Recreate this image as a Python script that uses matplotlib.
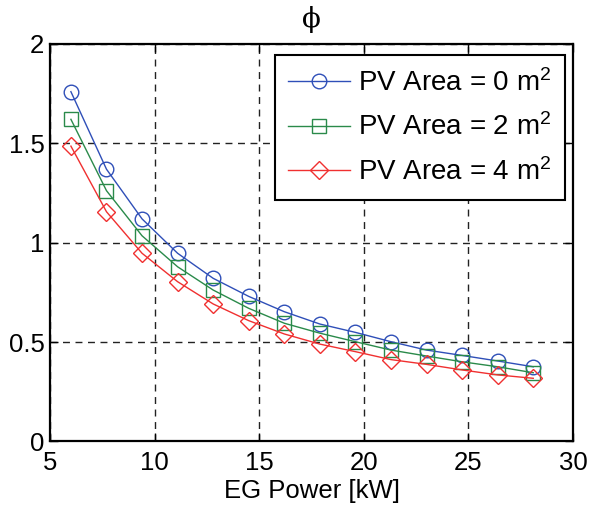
import matplotlib
matplotlib.use("Agg")
import matplotlib.pyplot as plt

plt.rcParams['font.family'] = ['Liberation Sans', 'DejaVu Sans']
plt.rcParams['mathtext.fontset'] = 'custom'
plt.rcParams['mathtext.rm'] = 'Liberation Sans'
plt.rcParams['mathtext.it'] = 'Liberation Sans'

eg_power = [6.0, 7.7, 9.4, 11.1, 12.8, 14.5, 16.2, 17.9, 19.6, 21.3, 23.0, 24.7, 26.4, 28.1]
phi_pv0 = [1.76, 1.37, 1.12, 0.947, 0.821, 0.730, 0.653, 0.591, 0.549, 0.502, 0.460, 0.433, 0.405, 0.376]
phi_pv2 = [1.621, 1.262, 1.035, 0.879, 0.762, 0.670, 0.595, 0.545, 0.502, 0.460, 0.430, 0.401, 0.376, 0.346]
phi_pv4 = [1.486, 1.156, 0.947, 0.804, 0.692, 0.608, 0.541, 0.490, 0.452, 0.412, 0.388, 0.360, 0.335, 0.318]
labels = [r'PV Area = 0 m$^{\mathrm{2}}$', r'PV Area = 2 m$^{\mathrm{2}}$', r'PV Area = 4 m$^{\mathrm{2}}$']
xticks = [5, 10, 15, 20, 25, 30]
yticks = [0, 0.5, 1, 1.5, 2]
ytick_labels = ['0', '0.5', '1', '1.5', '2']

fig = plt.figure(figsize=(5.93, 5.12), dpi=100)
ax = fig.add_axes([0.0843, 0.1377, 0.8820, 0.7764])

ax.plot(eg_power, phi_pv0, color='#2f4fb8', marker='o', ms=10.5, mfc='none', mew=1.0, lw=1.0, label=labels[0])
ax.plot(eg_power, phi_pv2, color='#2a8a4a', marker='s', ms=10.5, mfc='none', mew=1.0, lw=1.0, label=labels[1])
ax.plot(eg_power, phi_pv4, color='#f03030', marker='D', ms=9.5, mfc='none', mew=1.0, lw=1.0, label=labels[2])

ax.set_xlim(5, 30)
ax.set_ylim(0, 2)
ax.set_xticks(xticks)
ax.set_yticks(yticks)
ax.set_yticklabels(ytick_labels)
ax.tick_params(direction='in', top=True, right=True, length=6, width=1.0, labelsize=18.5, colors='black')
ax.tick_params(axis='x', pad=7)
ax.tick_params(axis='y', pad=4)
for s in ax.spines.values():
    s.set_linewidth(1.6)
ax.grid(True, color='#222222', linestyle=(0, (5, 4)), linewidth=1.0)

ax.set_xlabel('EG Power [kW]', fontsize=18.5, labelpad=3)
ax.set_title('ϕ', fontsize=20, family=['DejaVu Serif'], pad=12)

leg = ax.legend(loc='upper right', bbox_to_anchor=(0.985, 0.972), borderaxespad=0,
                fontsize=20, handlelength=2.2, handletextpad=0.3, labelspacing=0.6,
                fancybox=False, framealpha=1, edgecolor='black', borderpad=0.5)
leg.get_frame().set_linewidth(1.5)

fig.savefig('out.png', dpi=100)
